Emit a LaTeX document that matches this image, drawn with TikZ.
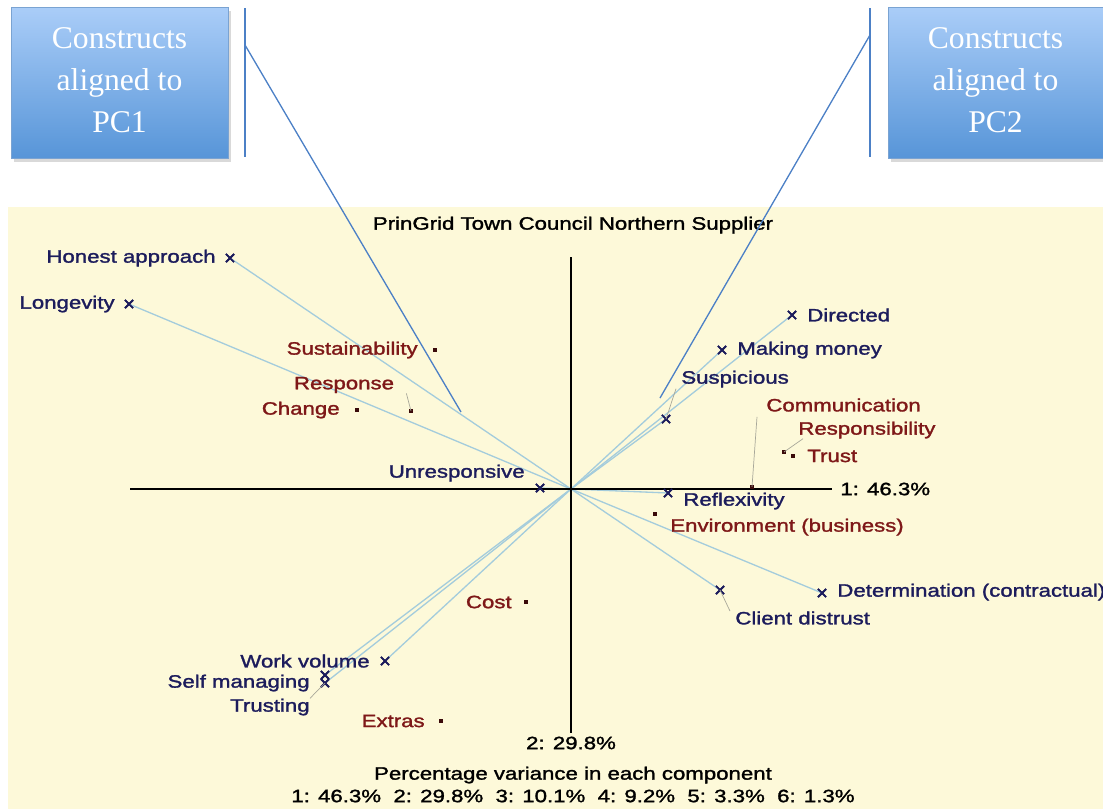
\documentclass[tikz,border=0pt]{standalone}
\usepackage{fontspec}
\setmainfont{Liberation Serif}
\newfontfamily\plotfont[FakeStretch=1.24,FakeBold=1.6]{Liberation Sans}
\newfontfamily\boxfont{Liberation Serif}
\usetikzlibrary{shapes.misc,shadows}

\definecolor{cream}{HTML}{FDF9D9}
\definecolor{navyc}{HTML}{1C1C5C}
\definecolor{redc}{HTML}{7E1818}
\definecolor{dotc}{HTML}{3A0A0A}
\definecolor{loadc}{HTML}{A4CCDC}
\definecolor{leadc}{HTML}{4C80C6}
\definecolor{boxtop}{HTML}{AACDF8}
\definecolor{boxbot}{HTML}{5795D8}
\definecolor{boxedge}{HTML}{7AA3D2}
\definecolor{thinc}{HTML}{A8A89A}

\tikzset{
  px/.style={x=0.02cm,y=-0.02cm},
  pcbox/.style={draw=boxedge,line width=0.5pt,top color=boxtop,bottom color=boxbot,
    drop shadow={opacity=0.3,shadow xshift=1.5pt,shadow yshift=-2.5pt}},
  boxtext/.style={text=white,align=center,font=\boxfont\fontsize{18}{24}\selectfont,inner sep=0},
  cx/.style={cross out,draw=navyc,line width=1pt,minimum size=3.6pt,inner sep=0},
  dt/.style={rectangle,fill=dotc,minimum size=2.8pt,inner sep=0},
  construct/.style={text=navyc,inner sep=0,font=\plotfont\fontsize{10.2}{12}\selectfont},
  element/.style={text=redc,inner sep=0,font=\plotfont\fontsize{10.2}{12}\selectfont},
  plain/.style={text=black,inner sep=0,font=\plotfont\fontsize{10.2}{12}\selectfont},
  loading/.style={draw=loadc,line width=0.75pt},
  thinlead/.style={draw=thinc,line width=0.4pt},
  pclead/.style={draw=leadc,line width=0.75pt},
  axis/.style={draw=black,line width=0.85pt}
}

\begin{document}
\begin{tikzpicture}[px]
\useasboundingbox (0,0) rectangle (1103,809);
% plot background
\fill[cream] (8,207) rectangle (1103,809);

% call-out boxes
\node[pcbox,minimum width=217*0.02cm,minimum height=151*0.02cm,inner sep=0] (box1) at (119.5,82.5) {};
\node[boxtext] (t1) at (119.5,80) {Constructs\\aligned to\\PC1};
\node[pcbox,minimum width=215*0.02cm,minimum height=151*0.02cm,inner sep=0] (box2) at (995.5,82.5) {};
\node[boxtext] (t2) at (995.5,80) {Constructs\\aligned to\\PC2};

% bracket lines beside the boxes
\coordinate (b1t) at (245,8);
\coordinate (b1b) at (245,157);
\coordinate (b1k) at (245,45);
\coordinate (b2t) at (870,8);
\coordinate (b2b) at (870,157);
\coordinate (b2k) at (870,35);
\coordinate (p1end) at (461,412);
\coordinate (p2end) at (660,398);

% origin and axes
\coordinate (o) at (571,489);
\coordinate (xl) at (130,489);
\coordinate (xr) at (832,489);
\coordinate (yt) at (571,257);
\coordinate (yb) at (571,733);

% construct markers
\node[cx] (honest) at (230,258) {};
\node[cx] (longev) at (129,304) {};
\node[cx] (direct) at (792,315) {};
\node[cx] (money) at (722,350) {};
\node[cx] (susp) at (666,419) {};
\node[cx] (unresp) at (540,488) {};
\node[cx] (reflex) at (668,493) {};
\node[cx] (determ) at (822,593) {};
\node[cx] (client) at (720,590) {};
\node[cx] (workv) at (385,661) {};
\node[cx] (selfm) at (325,675) {};
\node[cx] (trustg) at (325,683) {};

% loading lines
\foreach \m in {honest,longev,direct,money,susp,unresp,reflex,determ,client,workv,selfm,trustg}
  \draw[loading] (o) -- (\m.center);

% axes
\draw[axis] (xl) -- (xr);
\draw[axis] (yt) -- (yb);

% element points
\node[dt] (sust) at (435,350) {};
\node[dt] (resp) at (411,411) {};
\node[dt] (chg) at (357,410) {};
\node[dt] (comm) at (752,487) {};
\node[dt] (respb) at (784,452) {};
\node[dt] (trust) at (793,456) {};
\node[dt] (env) at (655,514) {};
\node[dt] (cost) at (526,602) {};
\node[dt] (extras) at (441,721) {};

% redraw markers on top of the lines
\foreach \m in {honest,longev,direct,money,susp,unresp,reflex,determ,client,workv,selfm,trustg}
  \node[cx] at (\m.center) {};

% labels
\node[plain] (title) at (573,225) {PrinGrid Town Council Northern Supplier};
\node[construct,anchor=east] (lhonest) at (216,258) {Honest approach};
\node[construct,anchor=east] (llongev) at (115,304) {Longevity};
\node[construct,anchor=west] (ldirect) at (807,315) {Directed};
\node[construct,anchor=west] (lmoney) at (737,350) {Making money};
\node[construct,anchor=west] (lsusp) at (681,379) {Suspicious};
\node[construct,anchor=east] (lunresp) at (525,473) {Unresponsive};
\node[construct,anchor=west] (lreflex) at (683,501) {Reflexivity};
\node[construct,anchor=west] (ldeterm) at (837,592) {Determination (contractual)};
\node[construct,anchor=west] (lclient) at (735,618) {Client distrust};
\node[construct,anchor=east] (lworkv) at (370,661) {Work volume};
\node[construct,anchor=east] (lselfm) at (310,683) {Self managing};
\node[construct,anchor=east] (ltrustg) at (310,707) {Trusting};

\node[element,anchor=east] (lsust) at (418,350) {Sustainability};
\node[element] (lresp) at (344,385) {Response};
\node[element,anchor=east] (lchg) at (340,410) {Change};
\node[element,anchor=west] (lcomm) at (766,405) {Communication};
\node[element,anchor=west] (lrespb) at (798,430) {Responsibility};
\node[element,anchor=west] (ltrust) at (807,456) {Trust};
\node[element,anchor=west] (lenv) at (670,527) {Environment (business)};
\node[element,anchor=east] (lcost) at (512,602) {Cost};
\node[element,anchor=east] (lextras) at (425,721) {Extras};

\node[plain,anchor=west] (ax1) at (840,489) {1: 46.3\%};
\node[plain] (ax2) at (571,743) {2: 29.8\%};
\node[plain] (pv1) at (573,775) {Percentage variance in each component};
\node[plain] (pv2) at (573,796) {1: 46.3\%\ \ 2: 29.8\%\ \ 3: 10.1\%\ \ 4: 9.2\%\ \ 5: 3.3\%\ \ 6: 1.3\%};

% label leaders
\draw[thinlead] (comm.center) -- ([xshift=-0.18cm,yshift=-0.1cm]lcomm.south west);
\draw[thinlead] (susp.center) -- ([xshift=-0.1cm,yshift=-0.02cm]lsusp.south west);
\draw[thinlead] (respb.center) -- ([xshift=0.1cm]lrespb.south west);
\draw[thinlead] (resp.center) -- ([xshift=0.24cm]lresp.south east);
\draw[thinlead] (trustg.center) -- (ltrustg.north east);
\draw[thinlead] (client.center) -- ([xshift=-0.1cm]lclient.north west);

% bracket and pointer lines
\draw[pclead] (b1t) -- (b1b);
\draw[pclead] (b1k) -- (p1end);
\draw[pclead] (b2t) -- (b2b);
\draw[pclead] (b2k) -- (p2end);
\end{tikzpicture}
\end{document}
